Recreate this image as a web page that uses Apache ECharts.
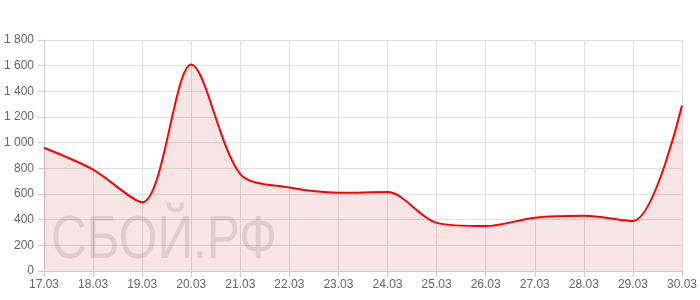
<!DOCTYPE html>
<html><head><meta charset="utf-8">
<script src="https://cdn.jsdelivr.net/npm/echarts@6/dist/echarts.min.js"></script>
<style>html,body{margin:0;padding:0;background:#fff}#c{width:700px;height:300px}</style>
</head><body><div id="c"></div>
<script>
var categories = ["17.03","18.03","19.03","20.03","21.03","22.03","23.03","24.03","25.03","26.03","27.03","28.03","29.03","30.03"];
var values = [960, 790, 535, 1610, 755, 650, 610, 615, 375, 350, 415, 430, 390, 1290];
var yTicks = {min: 0, max: 1800, interval: 200};
var watermark = "СБОЙ.РФ";

var chart = echarts.init(document.getElementById('c'), null, {renderer: 'canvas'});
chart.setOption({
  animation: false,
  grid: {left: 44, right: 17, top: 40, bottom: 29, containLabel: false},
  graphic: [{
    type: 'text', x: 51, y: 241, scaleX: 0.8, z: 100,
    style: {text: watermark, x: 0, y: 0, align: 'left', verticalAlign: 'middle',
      font: '62px "Liberation Sans", Arial, sans-serif', fill: 'rgba(110,80,80,0.17)'}
  }],
  xAxis: {
    type: 'category', data: categories, boundaryGap: false,
    axisLine: {lineStyle: {color: '#ccc'}},
    axisTick: {show: true, length: 6, lineStyle: {color: '#ccc'}},
    axisLabel: {color: '#666', fontSize: 12, fontFamily: '"Liberation Sans", Arial, sans-serif', margin: 8},
    splitLine: {show: true, lineStyle: {color: '#e0e0e0'}}
  },
  yAxis: {
    type: 'value', min: yTicks.min, max: yTicks.max, interval: yTicks.interval,
    axisLine: {show: true, lineStyle: {color: '#ccc'}},
    axisTick: {show: true, length: 6, lineStyle: {color: '#ccc'}},
    axisLabel: {color: '#666', fontSize: 12, fontFamily: '"Liberation Sans", Arial, sans-serif', margin: 10,
      formatter: function (v) { return String(v).replace(/\B(?=(\d{3})+(?!\d))/g, ' '); }},
    splitLine: {show: true, lineStyle: {color: '#e0e0e0'}}
  },
  series: [{
    type: 'line', data: values, smooth: 0.3, symbol: 'none',
    lineStyle: {color: '#ff0000', width: 2},
    areaStyle: {color: 'rgba(190,30,30,0.17)'}
  }]
});
</script></body></html>
